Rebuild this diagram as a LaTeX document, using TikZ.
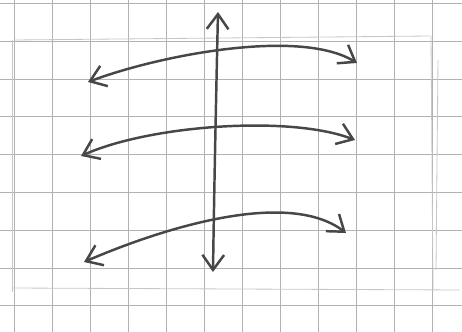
\documentclass[tikz,border=0pt]{standalone}
\usepackage{tikz}
\usetikzlibrary{arrows.meta}

\begin{document}
\begin{tikzpicture}[x=0.03cm, y=-0.03cm,
    gridline/.style={gray!60, line width=0.8pt},
    pencil/.style={gray!45, line width=0.7pt},
    sketch/.style={black!72, line width=2.1pt, line cap=round,
      {Straight Barb[length=4.5mm, width=6.5mm]}-{Straight Barb[length=4.5mm, width=6.5mm]}}]
  \useasboundingbox (0,0) rectangle (462,332);

  % Grid paper
  \foreach \i in {0,...,11}
    \draw[gridline] (14.5+38*\i,0) -- (14.5+38*\i,332);
  \foreach \j in {0,...,8}
    \draw[gridline] (0,3.5+37.8*\j) -- (462,3.5+37.8*\j);

  % Faint frame
  \draw[pencil] (14,40) -- (430,36);
  \draw[pencil] (12,40) -- (12,292);
  \draw[pencil] (431,36) -- (433,290);
  \draw[pencil] (438,60) -- (436,270);
  \draw[pencil] (12,288) -- (460,290);

  % Arrow ends
  \coordinate (vtop) at (218,12);
  \coordinate (vbot) at (213,272);
  \coordinate (aleft) at (88,82);
  \coordinate (aright) at (357,63);
  \coordinate (bleft) at (81,156);
  \coordinate (bright) at (355,140);
  \coordinate (cleft) at (84,262);
  \coordinate (cright) at (346,233);

  % Vertical arrow
  \draw[sketch] (vtop) .. controls (216,100) and (214,200) .. (vbot);

  % Three curved arrows
  \draw[sketch] (aleft) .. controls (160,55) and (300,28) .. (aright);
  \draw[sketch] (bleft) .. controls (150,125) and (290,115) .. (bright);
  \draw[sketch] (cleft) .. controls (170,225) and (290,190) .. (cright);
\end{tikzpicture}
\end{document}
